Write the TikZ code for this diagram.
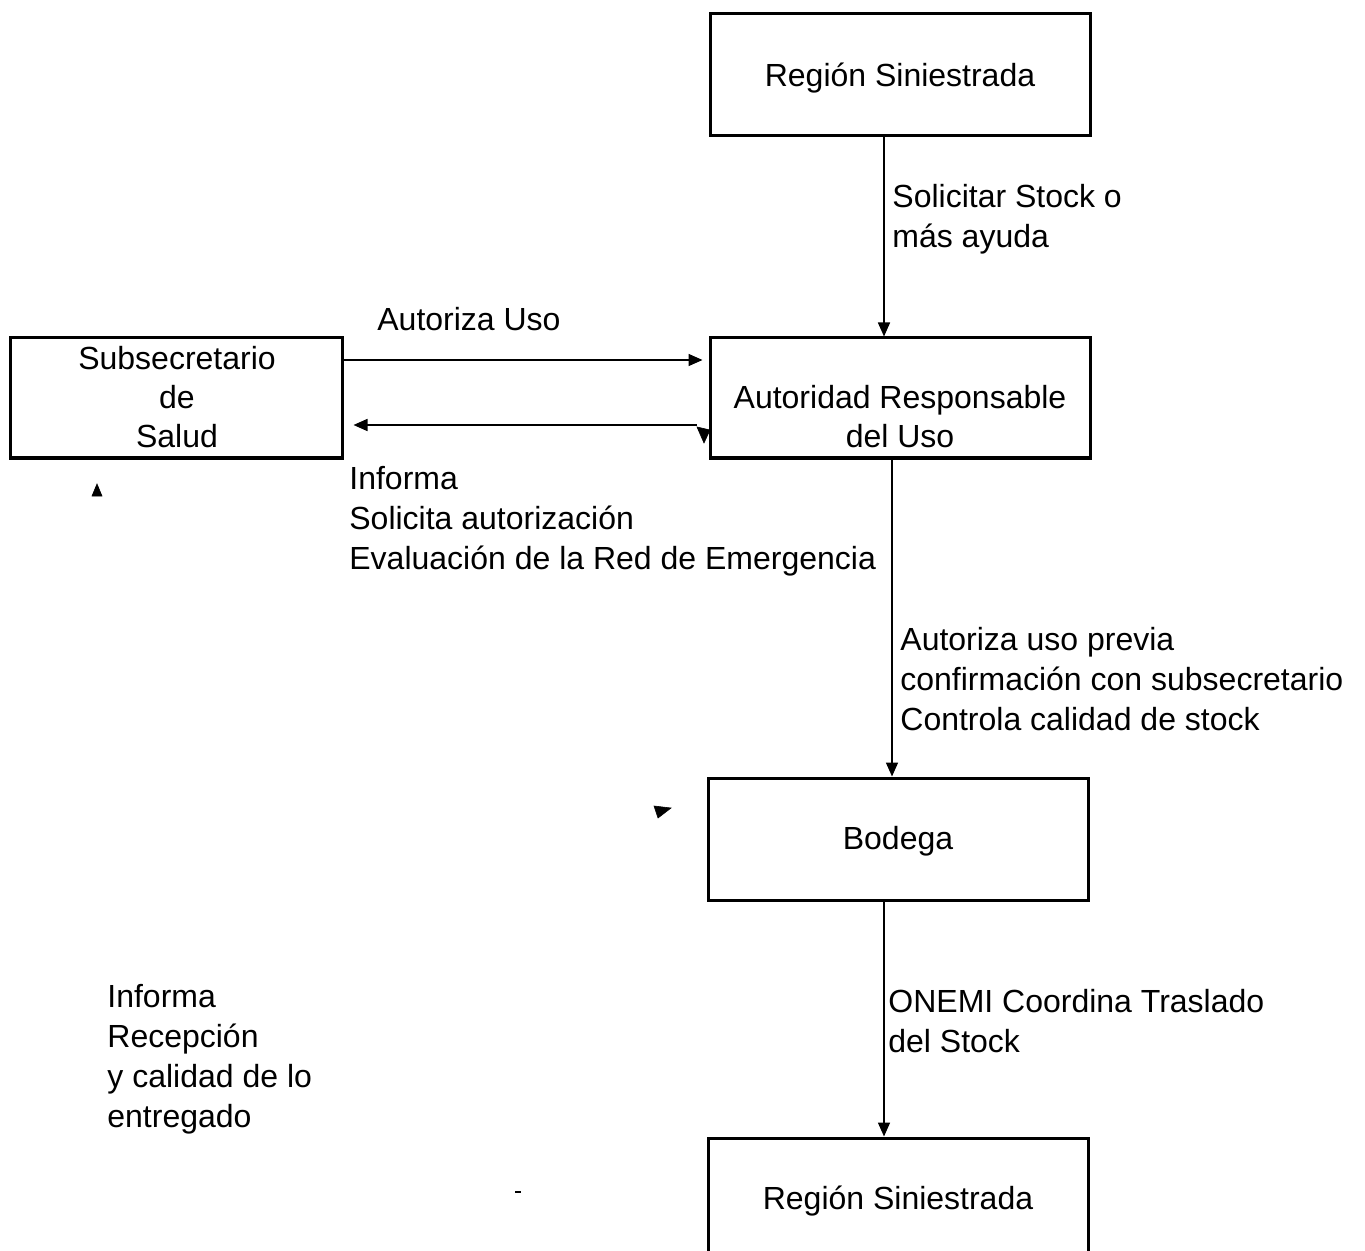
\documentclass[tikz,border=0pt]{standalone}
\usepackage{fontspec}
\setmainfont{Liberation Sans}
\usetikzlibrary{arrows.meta}
\begin{document}
\begin{tikzpicture}[x=0.5pt,y=-0.5pt,
 box/.style={draw, line width=1.5pt, minimum width=190pt, minimum height=61pt, inner sep=0pt, align=center},
 txt/.style={inner sep=0pt, align=center, yshift=-1.5pt, font=\fontsize{16}{19.5}\selectfont},
 lbl/.style={anchor=west, align=left, inner sep=0pt, yshift=-1.5pt, font=\fontsize{16}{20}\selectfont},
 conn/.style={line width=0.8pt, -{Triangle[width=6pt,length=7pt]}},
 stray/.style={fill=black, draw=black, line width=0.3pt}]
\useasboundingbox (0,0) rectangle (1365,1251);
% boxes
\node[box] (top) at (900,75) {};
\node[txt] (topT) at (900,75) {Región Siniestrada};
\node[box, minimum height=60pt] (aut) at (900,398) {};
\node[txt] (autT) at (900,414) {Autoridad Responsable\\del Uso};
\node[box, minimum width=166pt, minimum height=60pt] (sub) at (176,398) {};
\node[txt, yshift=1pt] (subT) at (177,396) {Subsecretario\\de\\Salud};
\node[box] (bod) at (898,839) {};
\node[txt] (bodT) at (898,838) {Bodega};
\node[box, minimum height=60pt] (bot) at (898,1198) {};
\node[txt] (botT) at (898,1198) {Región Siniestrada};
% connectors
\coordinate (x1) at (884,0);
\coordinate (x2) at (892,0);
\coordinate (y1) at (0,360);
\coordinate (y2) at (0,425);
\draw[conn] (x1 |- top.south) -- (x1 |- aut.north);
\draw[conn] (x2 |- aut.south) -- (x2 |- bod.north);
\draw[conn] (x1 |- bod.south) -- (x1 |- bot.north);
\draw[conn, shorten >=3pt] (sub.east |- y1) -- (aut.west |- y1);
\draw[conn, shorten >=5pt, shorten <=6pt] (aut.west |- y2) -- (sub.east |- y2);
% labels
\node[lbl] (l1) at (892,216) {Solicitar Stock o\\más ayuda};
\node[lbl] (l2) at (377,316) {Autoriza Uso};
\node[lbl] (l3) at (349,518) {Informa\\Solicita autorización\\Evaluación de la Red de Emergencia};
\node[lbl] (l4) at (900,676) {Autoriza uso previa\\confirmación con subsecretario\\Controla calidad de stock};
\node[lbl] (l5) at (888,1018) {ONEMI Coordina Traslado\\del Stock};
\node[lbl] (l6) at (107,1056) {Informa\\Recepción\\y calidad de lo\\entregado};
% stray marks
\fill[stray] (697,427) -- (710,430) -- (704,443) -- cycle;
\fill[stray] (92,496) -- (102,496) -- (97,484) -- cycle;
\fill[stray] (654,806) -- (671,808) -- (658,818) -- cycle;
\draw[line width=0.6pt] (515,1192) -- (521,1192);
\end{tikzpicture}
\end{document}
